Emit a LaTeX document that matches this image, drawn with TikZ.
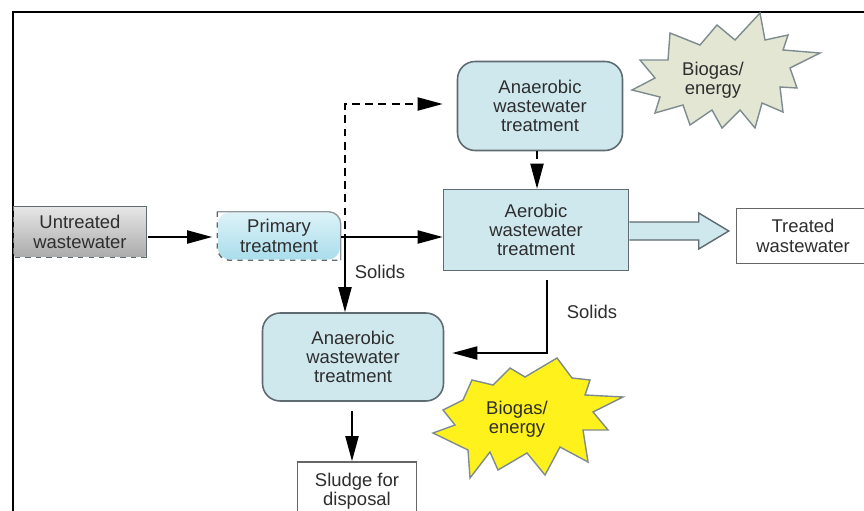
\documentclass[tikz,border=0pt]{standalone}
\usepackage{fontspec}
\setmainfont{Liberation Sans}
\usetikzlibrary{arrows.meta,calc,positioning}

\definecolor{boxline}{HTML}{5E6B70}
\definecolor{tankblue}{HTML}{CFE8EE}
\definecolor{primtop}{HTML}{DDF2F8}
\definecolor{primbot}{HTML}{A9DDEC}
\definecolor{greytop}{HTML}{E6E6E6}
\definecolor{greybot}{HTML}{ABABAB}
\definecolor{gasyellow}{HTML}{FFF21C}
\definecolor{gasgrey}{HTML}{E3E6D3}
\definecolor{gasline}{HTML}{7E8C90}
\definecolor{txt}{HTML}{2E2E2E}

\tikzset{
  stage/.style={draw=boxline, line width=0.9pt, fill=tankblue, align=center,
    text=txt, font=\fontsize{10.5}{11}\selectfont},
  tank/.style={stage, rounded corners=7pt},
  endbox/.style={stage, fill=white, draw=gray!80!black},
  flow/.style={line width=1.1pt, -{Triangle[length=5mm,width=2.6mm]}},
  gasflow/.style={flow, dash pattern=on 4.5pt off 3pt},
  lbl/.style={text=txt, font=\fontsize{10.5}{11}\selectfont},
  burst/.style={line width=0.8pt, draw=gasline, line join=miter}
}

\begin{document}
\begin{tikzpicture}[x=0.02cm, y=-0.02cm]
    \clip (0,0) rectangle (864,510);
    \fill[white] (0,0) rectangle (864,510);

    % frame
    \draw[line width=1.2pt] (13,515) -- (13,12) -- (870,12);

    % boxes
    \node[stage, top color=greytop, bottom color=greybot, draw=none,
          minimum width=2.62cm, minimum height=1.0cm] (raw) at (80,232)
          {Untreated\\wastewater};
    \draw[boxline, line width=0.8pt] (raw.south east) |- (raw.north west);
    \draw[boxline, line width=0.8pt, dashed] (raw.north west) |- (raw.south east);

    \node[tank, top color=primtop, bottom color=primbot, draw=none,
          minimum width=2.44cm, minimum height=0.94cm] (prim) at (279,236)
          {Primary\\treatment};
    \draw[boxline!70, line width=0.8pt, rounded corners=7pt]
          (prim.south east) |- (prim.north west);
    \draw[boxline, line width=0.8pt, dashed, rounded corners=7pt]
          (prim.north west) |- (prim.south east);

    \node[tank, minimum width=3.30cm, minimum height=1.78cm, rounded corners=10pt]
          (anaA) at (540,106) {Anaerobic\\wastewater\\treatment};
    \node[stage, minimum width=3.70cm, minimum height=1.62cm]
          (aer) at (536,230) {Aerobic\\wastewater\\treatment};
    \node[tank, minimum width=3.62cm, minimum height=1.76cm, rounded corners=10pt]
          (anaB) at (353,357) {Anaerobic\\wastewater\\treatment};
    \node[endbox, minimum width=2.66cm, minimum height=1.10cm]
          (clean) at (803,236) {Treated\\wastewater};
    \node[endbox, minimum width=2.38cm, minimum height=1.16cm]
          (sludge) at (357,491) {Sludge for\\disposal};

    % biogas bursts
    \draw[burst, fill=gasgrey] (760,13) -- (765,40) -- (788,35) -- (783,50)
          -- (820,53) -- (790,68) -- (797,88) -- (780,87) -- (783,112)
          -- (762,103) -- (755,128) -- (740,110) -- (722,128) -- (712,110)
          -- (690,125) -- (683,105) -- (655,113) -- (660,97) -- (632,90)
          -- (655,78) -- (640,60) -- (668,60) -- (670,33) -- (700,45)
          -- (717,25) -- (735,40) -- cycle;
    \node[lbl, align=center] (gasA) at (713,80) {Biogas/\\energy};

    \draw[burst, fill=gasyellow] (557,358) -- (572,378) -- (590,380) -- (585,395)
          -- (623,397) -- (593,412) -- (608,430) -- (583,430) -- (588,462)
          -- (560,447) -- (545,475) -- (527,453) -- (498,470) -- (490,452)
          -- (470,478) -- (468,450) -- (433,433) -- (455,425) -- (443,410)
          -- (463,400) -- (472,380) -- (493,385) -- (510,368) -- (525,377)
          -- cycle;
    \node[lbl, align=center] (gasB) at (517,419) {Biogas/\\energy};

    % connectors
    \coordinate (split) at (345,237);
    \draw[flow] ($(raw.east |- split)+(2,0)$) -- ($(prim.west |- split)+(-5,0)$);
    \draw[line width=1.1pt] (prim.east |- split) -- (split);
    \draw[flow] (split) -- (aer.west |- split);
    \draw[flow] (split) -- (split |- anaB.north);
    \draw[gasflow] ($(split)+(0,18)$) |- ($(anaA.west |- 0,104)+(-14,0)$);
    \draw[gasflow] (anaA.south -| 537,0) -- (aer.north -| 537,0);
    \draw[flow] ($(aer.south -| 547,0)+(0,9)$) |- ($(anaB.east |- 0,353)+(8,0)$);
    \draw[flow] ($(anaB.south -| 352,0)+(0,9)$) -- (sludge.north -| 352,0);

    % hollow arrow to treated water
    \coordinate (tip) at ($(clean.west |- aer.east)+(-7,1)$);
    \draw[boxline, line width=0.8pt, fill=tankblue, line join=miter]
          ($(aer.east)+(0,-8)$) -- ($(tip)+(-30,-9)$)
          -- ($(tip)+(-30,-18)$) -- (tip)
          -- ($(tip)+(-30,18)$) -- ($(tip)+(-30,9)$)
          -- ($(aer.east)+(0,10)$);

    \node[lbl] (solA) at (380,272) {Solids};
    \node[lbl] (solB) at (592,312) {Solids};
\end{tikzpicture}
\end{document}
